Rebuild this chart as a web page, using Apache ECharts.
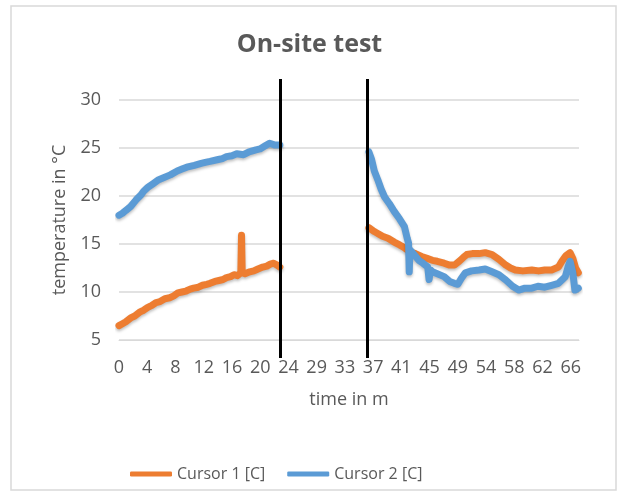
<!DOCTYPE html>
<html>
<head>
<meta charset="utf-8">
<script src="https://cdn.jsdelivr.net/npm/echarts@6/dist/echarts.min.js"></script>
<style>
html,body{margin:0;padding:0;background:#fff;}
#chart{width:619px;height:495px;}
</style>
</head>
<body>
<div id="chart"></div>
<script>
// Tick labels shown on the time axis (minutes)
const tickLabels = ['0','4','8','12','16','20','24','29','33','37','41','45','49','54','58','62','66'];
const tickStep = 4.125;

// Cursor 1 [C] (orange) – before and after the gap, [time in min, °C]
const cursor1A = [[0,6.5],[0.5,6.7],[1,6.9],[1.7,7.3],[2.3,7.5],[3,7.9],[3.6,8.1],[4.2,8.4],[4.8,8.6],[5.4,8.9],[6,9.0],[6.7,9.3],[7.4,9.4],[8,9.6],[8.6,9.9],[9.2,10.0],[9.8,10.1],[10.4,10.3],[10.9,10.4],[11.6,10.5],[12.2,10.7],[12.8,10.8],[13.3,10.9],[14,11.1],[14.6,11.2],[15.2,11.3],[15.7,11.5],[16.3,11.6],[16.8,11.8],[17.3,11.7],[17.8,12.0],[17.9,15.9],[18.0,12.0],[18.4,11.9],[19.1,12.1],[19.7,12.2],[20.3,12.4],[21,12.6],[21.6,12.7],[22.1,12.9],[22.6,13.0],[23.1,12.8],[23.5,12.6]];
const cursor1B = [[36.5,16.7],[36.9,16.5],[37.3,16.3],[37.8,16.1],[38.5,15.8],[39.3,15.6],[40.2,15.2],[41,14.9],[41.7,14.6],[42.5,14.2],[43.3,14.0],[44.2,13.7],[45,13.5],[45.8,13.3],[46.5,13.2],[47.5,13.0],[48.3,12.8],[49,12.8],[49.7,13.2],[50.3,13.6],[50.8,13.9],[51.6,14.0],[52.6,14.0],[53.5,14.1],[54.5,13.9],[55.5,13.4],[56.5,12.8],[57.2,12.5],[57.9,12.3],[59,12.2],[60.3,12.3],[61.3,12.2],[62.2,12.3],[63.2,12.3],[64.2,12.6],[64.7,13.2],[65.3,13.8],[65.9,14.1],[66.3,13.5],[66.7,12.5],[67.1,12.0]];

// Cursor 2 [C] (blue)
const cursor2A = [[0,18.0],[0.5,18.2],[1,18.5],[1.7,18.9],[2.5,19.6],[3.2,20.1],[3.6,20.5],[4.2,20.9],[5.0,21.3],[5.8,21.7],[6.5,21.9],[7.5,22.2],[8.5,22.6],[9.2,22.8],[9.9,23.0],[11,23.2],[12,23.4],[12.6,23.5],[13.3,23.6],[14.5,23.8],[15.1,23.9],[15.7,24.1],[16.5,24.2],[17.2,24.4],[18.2,24.3],[19,24.6],[20,24.8],[20.6,24.9],[21.3,25.2],[22,25.5],[22.8,25.3],[23.5,25.3]];
const cursor2B = [[36.5,24.6],[36.9,23.8],[37.3,22.6],[37.8,21.7],[38.3,20.7],[38.8,19.9],[39.5,19.2],[40.2,18.4],[41,17.6],[41.7,16.8],[42.1,15.6],[42.3,15.1],[42.4,12.1],[42.5,14.4],[43.1,13.9],[43.8,13.3],[44.4,13.0],[45.1,12.6],[45.3,11.3],[45.5,12.3],[45.8,12.1],[46.5,11.9],[47.5,11.6],[48.3,11.1],[49.0,10.9],[49.5,10.8],[50.0,11.4],[50.6,12.0],[51.5,12.2],[52.6,12.3],[53.5,12.4],[54.5,12.1],[55.5,11.8],[56.5,11.25],[57.5,10.6],[58.4,10.2],[59.3,10.4],[60.3,10.4],[61.2,10.6],[62.2,10.5],[63.2,10.7],[64.2,10.9],[65.2,11.6],[65.6,12.6],[65.9,13.2],[66.3,12.0],[66.6,10.2],[67.1,10.4]];

// Vertical marker lines (minutes)
const markerTimes = [23.5, 36.2];

const orange = '#ED7D31';
const blue = '#5B9BD5';
const txt = '#595959';
const FONT = 'Open Sans';

const chart = echarts.init(document.getElementById('chart'), null, {renderer:'canvas'});

function lineSeries(name, data, color) {
  return {
    name: name, type: 'line', data: data, xAxisIndex: 0, yAxisIndex: 0,
    showSymbol: false, symbol: 'none', smooth: false,
    lineStyle: {width: 7, color: color, cap: 'round', join: 'round', shadowColor: 'rgba(0,0,0,0.25)', shadowBlur: 3, shadowOffsetY: 2},
    itemStyle: {color: color},
    animation: false
  };
}

const option = {
  backgroundColor: '#fff',
  animation: false,
  title: {
    text: 'On-site test', left: 'center', top: 27,
    textStyle: {fontFamily: FONT, fontSize: 25, fontWeight: 'bold', color: txt}
  },
  legend: {
    data: ['Cursor 1 [C]', 'Cursor 2 [C]'],
    left: 125, top: 461, icon: 'roundRect', itemWidth: 42, itemHeight: 5, itemGap: 22,
    textStyle: {fontFamily: FONT, fontSize: 16, color: txt}
  },
  graphic: [{
    type: 'rect', shape: {x: 11, y: 6, width: 605, height: 484},
    style: {fill: 'none', stroke: '#d9d9d9', lineWidth: 1.5}, silent: true, z: -1
  }],
  grid: [
    {left: 119, right: 40, top: 100, bottom: 155},
    {left: 119, right: 40, top: 79, bottom: 137}
  ],
  xAxis: [{
    type: 'value', gridIndex: 0, min: 0, max: 67.2, interval: tickStep,
    name: 'time in m', nameLocation: 'middle', nameGap: 51,
    nameTextStyle: {fontFamily: FONT, fontSize: 18, color: txt},
    axisLine: {show: true, lineStyle: {color: '#d9d9d9', width: 1}},
    axisTick: {show: false}, splitLine: {show: false},
    axisLabel: {
      fontFamily: FONT, fontSize: 18, color: txt, margin: 19, showMaxLabel: false,
      formatter: function (v) { const i = Math.round(v / tickStep); return tickLabels[i] !== undefined ? tickLabels[i] : ''; }
    }
  }, {
    type: 'value', gridIndex: 1, min: 0, max: 67.2, show: false
  }],
  yAxis: [{
    type: 'value', gridIndex: 0, min: 5, max: 30, interval: 5,
    name: 'temperature in °C', nameLocation: 'middle', nameGap: 50, nameRotate: 90,
    nameTextStyle: {fontFamily: FONT, fontSize: 18, color: txt},
    axisLine: {show: false}, axisTick: {show: false},
    splitLine: {lineStyle: {color: '#d9d9d9', width: 1.5}},
    axisLabel: {fontFamily: FONT, fontSize: 18, color: txt, margin: 18}
  }, {
    type: 'value', gridIndex: 1, min: 0, max: 1, show: false
  }],
  series: [
    lineSeries('Cursor 1 [C]', cursor1A, orange),
    lineSeries('Cursor 1 [C]', cursor1B, orange),
    lineSeries('Cursor 2 [C]', cursor2A, blue),
    lineSeries('Cursor 2 [C]', cursor2B, blue),
    {
      name: 'markers', type: 'line', xAxisIndex: 1, yAxisIndex: 1, data: [],
      symbol: 'none', silent: true, z: 5,
      markLine: {
        silent: true, symbol: ['none', 'none'], label: {show: false},
        lineStyle: {color: '#000', width: 3, type: 'solid'},
        data: markerTimes.map(t => ({xAxis: t}))
      }
    }
  ]
};
chart.setOption(option);
</script>
</body>
</html>
